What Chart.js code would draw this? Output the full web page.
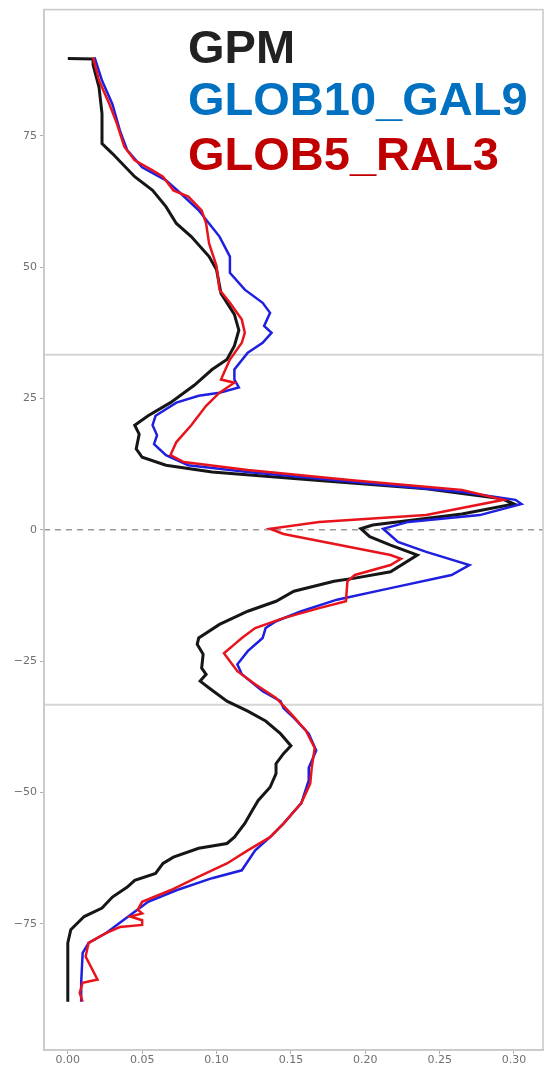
<!DOCTYPE html>
<html>
<head>
<meta charset="utf-8">
<script src="https://cdn.jsdelivr.net/npm/chart.js@4.4.1/dist/chart.umd.min.js"></script>
<style>
    html, body { margin: 0; padding: 0; background: #fff; }
    #wrap { position: relative; width: 556px; height: 1068px; }
    .legend-item {
        position: absolute;
        left: 188px;
        font: bold 47px "Liberation Sans", Arial, sans-serif;
        line-height: 47px;
        white-space: nowrap;
    }
</style>
</head>
<body>
<div id="wrap">
    <canvas id="latChart" width="556" height="1068"></canvas>
    <div class="legend-item" style="top:23px;color:#222222">GPM</div>
    <div class="legend-item" style="top:75px;color:#0070c0">GLOB10_GAL9</div>
    <div class="legend-item" style="top:130px;color:#c00000">GLOB5_RAL3</div>
</div>
<script>
// axis ticks
const xTicks = [0.00, 0.05, 0.10, 0.15, 0.20, 0.25, 0.30];
const yTicks = [-75, -50, -25, 0, 25, 50, 75];
const xMin = -0.016, xMax = 0.3195;
const yMin = -99, yMax = 99;

// reference lines (latitude)
const tropicLats = [33.3, -33.3];
const equatorLat = 0;

// GPM
const gpmLat = [
    89.7, 89.6, 88.5, 84.2, 79.2, 73.5, 71.6, 67.2, 64.6, 61.5,
    58.3, 55.8, 52, 49.5, 45, 41, 38, 35, 32.4, 30.5,
    27.5, 24.2, 21.7, 19.9, 18.2, 15.4, 13.8, 12.3, 11, 9.4,
    7.8, 5.9, 4.9, 3.0, 0.9, 0.2, -1.3, -2.9, -4.8, -8,
    -9.2, -9.8, -11.7, -13.6, -15.5, -18, -20.6, -21.8, -23.7, -26.3,
    -27.5, -28.8, -30.1, -32.6, -34.5, -36.4, -38.8, -41.1, -42.6, -44.5,
    -46.4, -49, -51.5, -53.4, -55.9, -58.5, -59.7, -60.6, -62.3, -63.5,
    -65.4, -66.7, -68, -69.9, -72, -73.6, -76.1, -78.6, -89.8
];
const gpmVal = [
    0.000, 0.017, 0.017, 0.021, 0.023, 0.023, 0.030, 0.045, 0.057, 0.066,
    0.073, 0.083, 0.095, 0.100, 0.103, 0.112, 0.115, 0.112, 0.107, 0.097,
    0.085, 0.069, 0.054, 0.045, 0.048, 0.046, 0.050, 0.066, 0.097, 0.169,
    0.241, 0.292, 0.300, 0.265, 0.205, 0.197, 0.203, 0.217, 0.235, 0.217,
    0.193, 0.179, 0.152, 0.140, 0.121, 0.102, 0.088, 0.087, 0.091, 0.090,
    0.093, 0.089, 0.095, 0.107, 0.121, 0.133, 0.143, 0.150, 0.145, 0.140,
    0.140, 0.136, 0.128, 0.124, 0.119, 0.112, 0.107, 0.088, 0.071, 0.064,
    0.059, 0.045, 0.040, 0.030, 0.023, 0.011, 0.002, 0.000, 0.000
];

// GLOB10_GAL9
const galLat = [
    89.9, 85.5, 81, 76, 72.2, 69, 66.5, 64, 60.8, 58.3,
    55.8, 52, 48.9, 45.7, 43.2, 41.3, 38.8, 37.5, 35.6, 33.7,
    30.5, 28.6, 27.1, 26.1, 25.5, 24.2, 21.7, 19.9, 18, 16.3,
    14.2, 12.3, 11, 9.1, 7.2, 5.7, 4.9, 2.8, 1.5, 0.2,
    -2.3, -4.2, -6.7, -8.6, -11.1, -13.3, -15.5, -17.4, -18.7, -20.6,
    -23.1, -25.6, -27.5, -30.7, -32.6, -33.9, -35.8, -38.8, -42, -45.3,
    -47.7, -52, -55.9, -58.5, -61, -64.8, -66.3, -68.6, -70.8, -72.7,
    -74.8, -76.7, -78.6, -80.5, -86.2, -89.8
];
const galVal = [
    0.018, 0.023, 0.030, 0.035, 0.040, 0.050, 0.066, 0.076, 0.088, 0.095,
    0.102, 0.109, 0.109, 0.119, 0.131, 0.136, 0.132, 0.137, 0.131, 0.121,
    0.112, 0.112, 0.115, 0.102, 0.088, 0.073, 0.059, 0.057, 0.060, 0.058,
    0.066, 0.081, 0.121, 0.193, 0.265, 0.301, 0.305, 0.277, 0.229, 0.212,
    0.222, 0.241, 0.270, 0.258, 0.217, 0.181, 0.157, 0.140, 0.133, 0.131,
    0.121, 0.114, 0.117, 0.131, 0.143, 0.145, 0.152, 0.162, 0.167, 0.162,
    0.162, 0.157, 0.145, 0.136, 0.126, 0.117, 0.097, 0.073, 0.054, 0.045,
    0.035, 0.026, 0.014, 0.010, 0.009, 0.009
];

// GLOB5_RAL3
const ralLat = [
    89.9, 85.5, 81, 77.3, 72.9, 70.3, 68.4, 67.2, 64.6, 63.4,
    60.8, 58.3, 54.5, 50.2, 45.7, 43.2, 40, 37.5, 35.6, 32.4,
    29.9, 28.6, 28, 26.1, 23.6, 19.9, 16.7, 14.2, 12.9, 11.4,
    9.4, 7.6, 5.7, 2.8, 1.5, 0.2, -0.8, -2.8, -4.8, -5.5,
    -6.7, -8.6, -9.8, -13.6, -14.9, -16.8, -18.7, -20.6, -21.8, -23.5,
    -25, -26.9, -29.4, -32, -35, -38.2, -41.5, -45.3, -48.3, -52,
    -55.9, -58.5, -61, -63.5, -66, -68.6, -70.8, -72.3, -73, -73.6,
    -74.3, -75.2, -75.6, -76.7, -78.6, -81.2, -85.6, -86.2, -88.1, -89.8
];
const ralVal = [
    0.017, 0.021, 0.028, 0.033, 0.038, 0.045, 0.057, 0.064, 0.071, 0.081,
    0.090, 0.093, 0.095, 0.100, 0.102, 0.109, 0.117, 0.119, 0.117, 0.109,
    0.105, 0.103, 0.112, 0.102, 0.093, 0.083, 0.073, 0.069, 0.078, 0.121,
    0.193, 0.265, 0.293, 0.241, 0.169, 0.136, 0.145, 0.181, 0.217, 0.224,
    0.217, 0.193, 0.188, 0.187, 0.169, 0.145, 0.126, 0.117, 0.112, 0.105,
    0.109, 0.114, 0.126, 0.140, 0.150, 0.160, 0.166, 0.164, 0.163, 0.157,
    0.145, 0.136, 0.121, 0.107, 0.088, 0.069, 0.050, 0.047, 0.050, 0.042,
    0.050, 0.050, 0.035, 0.026, 0.014, 0.012, 0.020, 0.010, 0.008, 0.010
];

function toPoints(lats, vals) {
    return lats.map((lat, i) => ({ x: vals[i], y: lat }));
}

function lineSet(label, data, color, width, order) {
    return {
        label: label,
        data: data,
        borderColor: color,
        borderWidth: width,
        showLine: true,
        pointRadius: 0,
        tension: 0,
        order: order
    };
}

// box round the plot, like the matplotlib frame
const framePlugin = {
    id: "frame",
    afterDraw(chart) {
        const { ctx, chartArea: a } = chart;
        ctx.save();
        ctx.strokeStyle = "#c8c8c8";
        ctx.lineWidth = 1.5;
        ctx.strokeRect(a.left, a.top, a.right - a.left, a.bottom - a.top);
        ctx.restore();
    }
};

const tickFont = { family: "DejaVu Sans", size: 11 };

new Chart(document.getElementById("latChart").getContext("2d"), {
    type: "scatter",
    data: {
        datasets: [
            lineSet("GLOB5_RAL3", toPoints(ralLat, ralVal), "#e8141c", 2.5, 1),
            lineSet("GLOB10_GAL9", toPoints(galLat, galVal), "#1f1fe0", 2.5, 2),
            lineSet("GPM", toPoints(gpmLat, gpmVal), "#161616", 3, 3),
            ...tropicLats.map(lat => ({
                data: [{ x: xMin, y: lat }, { x: xMax, y: lat }],
                borderColor: "#d6d6d6",
                borderWidth: 2,
                showLine: true,
                pointRadius: 0,
                order: 5
            })),
            {
                data: [{ x: xMin, y: equatorLat }, { x: xMax, y: equatorLat }],
                borderColor: "#9a9a9a",
                borderWidth: 1.5,
                borderDash: [6, 5],
                showLine: true,
                pointRadius: 0,
                order: 4
            }
        ]
    },
    options: {
        responsive: false,
        animation: false,
        layout: { padding: { top: 6, right: 13, left: 0, bottom: 0 } },
        plugins: {
            legend: { display: false },
            tooltip: { enabled: false }
        },
        scales: {
            x: {
                type: "linear",
                min: xMin,
                max: xMax,
                afterBuildTicks: axis => { axis.ticks = xTicks.map(v => ({ value: v })); },
                afterFit: axis => { axis.height = 18; },
                ticks: {
                    font: tickFont,
                    color: "#707070",
                    padding: 0,
                    maxRotation: 0,
                    callback: v => v.toFixed(2)
                },
                grid: { drawOnChartArea: false, drawTicks: true, tickLength: 4, color: "#b0b0b0" },
                border: { display: true, color: "#c8c8c8", width: 1.5 }
            },
            y: {
                type: "linear",
                min: yMin,
                max: yMax,
                afterBuildTicks: axis => { axis.ticks = yTicks.map(v => ({ value: v })); },
                afterFit: axis => { axis.width = 44; },
                ticks: {
                    font: tickFont,
                    color: "#707070",
                    padding: 3,
                    callback: v => (v < 0 ? "\u2212" + Math.abs(v) : String(v))
                },
                grid: { drawOnChartArea: false, drawTicks: true, tickLength: 4, color: "#b0b0b0" },
                border: { display: true, color: "#c8c8c8", width: 1.5 }
            }
        }
    },
    plugins: [framePlugin]
});
</script>
</body>
</html>
